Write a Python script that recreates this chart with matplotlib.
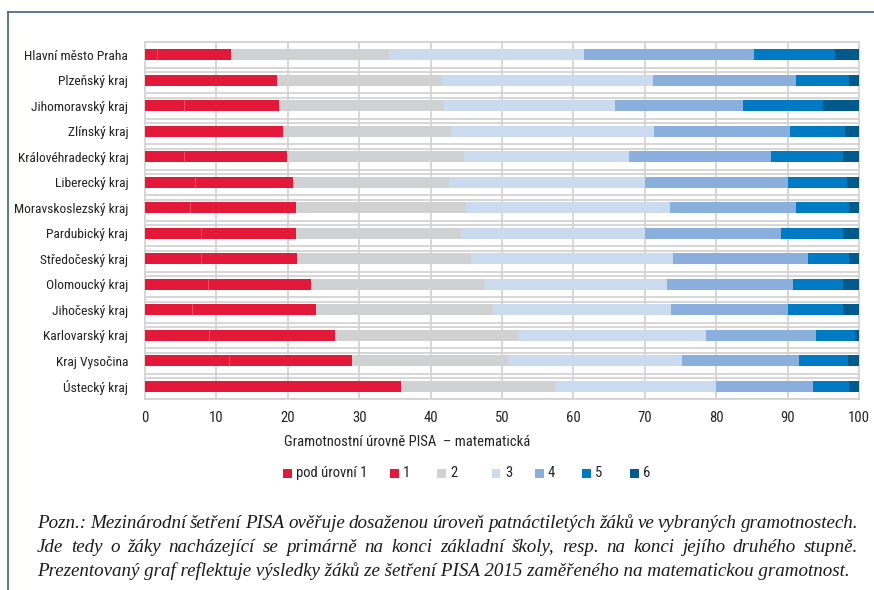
import matplotlib
matplotlib.use("Agg")
import matplotlib.pyplot as plt
from matplotlib import font_manager as fm
from matplotlib.patches import Rectangle
from matplotlib.lines import Line2D
import numpy as np

regions = ["Hlavní město Praha", "Plzeňský kraj", "Jihomoravský kraj", "Zlínský kraj",
           "Královéhradecký kraj", "Liberecký kraj", "Moravskoslezský kraj", "Pardubický kraj",
           "Středočeský kraj", "Olomoucký kraj", "Jihočeský kraj", "Karlovarský kraj",
           "Kraj Vysočina", "Ústecký kraj"]
# cumulative shares (%) at the end of each level
cum_pod = [1.7, 0.0, 5.4, 0.0, 5.4, 7.0, 6.3, 7.8, 7.8, 8.8, 6.6, 9.0, 11.8, 0.0]
cum_1 = [12.0, 18.5, 18.7, 19.3, 19.9, 20.7, 21.1, 21.1, 21.3, 23.2, 24.0, 26.6, 29.0, 35.8]
cum_2 = [34.2, 41.6, 41.9, 42.9, 44.7, 42.6, 44.9, 44.3, 45.7, 47.6, 48.8, 52.4, 50.8, 57.4]
cum_3 = [61.5, 71.1, 65.8, 71.3, 67.8, 70.0, 73.5, 70.0, 73.9, 73.1, 73.7, 78.6, 75.2, 80.0]
cum_4 = [85.3, 91.2, 83.8, 90.3, 87.7, 90.1, 91.2, 89.1, 92.8, 90.8, 90.0, 94.0, 91.6, 93.6]
cum_5 = [96.6, 98.6, 95.0, 98.0, 97.7, 98.3, 98.6, 97.8, 98.6, 97.7, 97.8, 99.4, 98.5, 98.6]
cum_6 = [100.0] * 14

level_labels = ["pod úrovní 1", "1", "2", "3", "4", "5", "6"]
colors = ["#e4193a", "#e4193a", "#d0d1d3", "#cadbf0", "#8aafdc", "#007ac2", "#005b8c"]
x_ticks = [0, 10, 20, 30, 40, 50, 60, 70, 80, 90, 100]
xlabel = "Gramotnostní úrovně PISA  – matematická"
note_lines = [
    "Pozn.: Mezinárodní šetření PISA ověřuje dosaženou úroveň patnáctiletých žáků ve vybraných gramotnostech.",
    "Jde tedy o žáky nacházející se primárně na konci základní školy, resp. na konci jejího druhého stupně.",
    "Prezentovaný graf reflektuje výsledky žáků ze šetření PISA 2015 zaměřeného na matematickou gramotnost.",
]

names = {f.name for f in fm.fontManager.ttflist}
cond = None
for cand in ["Liberation Sans Narrow", "DejaVu Sans Condensed", "Roboto Condensed", "Open Sans Condensed"]:
    if cand in names:
        cond = cand
        break
sans = [cond, "DejaVu Sans"] if cond else ["Liberation Sans", "DejaVu Sans"]
serif = ["Liberation Serif", "DejaVu Serif"]
plt.rcParams["font.family"] = sans

W, H = 874, 590
fig = plt.figure(figsize=(W / 100, H / 100), dpi=100)
ax = fig.add_axes([145 / W, 1 - 399 / H, (859 - 145) / W, (399 - 42) / H])

cums = [cum_pod, cum_1, cum_2, cum_3, cum_4, cum_5, cum_6]
y = np.arange(len(regions))
bh = 0.45
left = np.zeros(len(regions))
for k, c in enumerate(cums):
    c = np.array(c)
    ax.barh(y, c - left, left=left, height=bh, color=colors[k], edgecolor="none", zorder=3)
    left = c
# thin separator between "pod úrovní 1" and "1"
pod = np.array(cum_pod)
m = pod > 0
ax.vlines(pod[m], y[m] - bh / 2, y[m] + bh / 2, color="#ee5a6e", lw=0.6, zorder=4)

ax.set_xlim(0, 100)
ax.set_ylim(len(regions) - 0.5, -0.5)
ax.set_xticks(x_ticks)
ax.set_xticklabels([str(v) for v in x_ticks], fontsize=10.5, color="#222222")
ax.set_yticks(y)
ax.set_yticklabels(regions, fontsize=9.7, color="#222222")
ax.tick_params(axis="both", length=0)
ax.tick_params(axis="x", pad=9)
ax.tick_params(axis="y", pad=12)
gc = "#d3d3d3"
for v in x_ticks[1:-1]:
    ax.axvline(v, color=gc, lw=1.3, zorder=1)
for b in np.arange(-0.5, len(regions) + 0.5, 1.0):
    ax.axhline(b, color=gc, lw=1.3, zorder=1)
    if -0.5 < b < len(regions) - 0.5:
        ax.axhline(b + 0.18, color=gc, lw=1.3, zorder=1)
for s in ax.spines.values():
    s.set_color(gc)
    s.set_linewidth(1.3)

fig.text(407 / W, 1 - 442 / H, xlabel, ha="center", va="center", fontsize=10.5, color="#222222")

# legend
lx_sq = [283, 390, 437, 492, 535, 582, 630]
ly = 1 - 473 / H
for k, lab in enumerate(level_labels):
    fig.patches.append(Rectangle((lx_sq[k] / W, ly - 4.5 / H), 8.5 / W, 9 / H,
                                 transform=fig.transFigure, facecolor=colors[k], edgecolor="none"))
    fig.text((lx_sq[k] + 13) / W, ly, lab, ha="left", va="center", fontsize=10.5, color="#222222")

# outer frame
fc = "#41607a"
fig.add_artist(Line2D([8 / W, 1.0], [1 - 12 / H, 1 - 12 / H], transform=fig.transFigure, color=fc, lw=1.2))
fig.add_artist(Line2D([8 / W, 8 / W], [0, 1 - 12 / H], transform=fig.transFigure, color=fc, lw=1.2))

# justified note
renderer = fig.canvas.get_renderer()
x0, x1 = 37, 858
ys = [523, 547, 571]
def width_of(txt, fs):
    t = fig.text(0, 0, txt, fontsize=fs, family=serif, style="italic")
    w = t.get_window_extent(renderer).width
    t.remove()
    return w
fs = 12.0
w3 = width_of(note_lines[2], fs)
fs = fs * (850 - x0) / w3
for i, line in enumerate(note_lines):
    yy = 1 - ys[i] / H
    if i == len(note_lines) - 1:
        fig.text(x0 / W, yy, line, fontsize=fs, family=serif, style="italic", ha="left", va="center", color="#1a1a1a")
        continue
    words = line.split(" ")
    ws = [width_of(wd, fs) for wd in words]
    gap = (x1 - x0 - sum(ws)) / (len(words) - 1)
    x = x0
    for wd, ww in zip(words, ws):
        fig.text(x / W, yy, wd, fontsize=fs, family=serif, style="italic", ha="left", va="center", color="#1a1a1a")
        x += ww + gap

fig.savefig("out.png", dpi=100)
